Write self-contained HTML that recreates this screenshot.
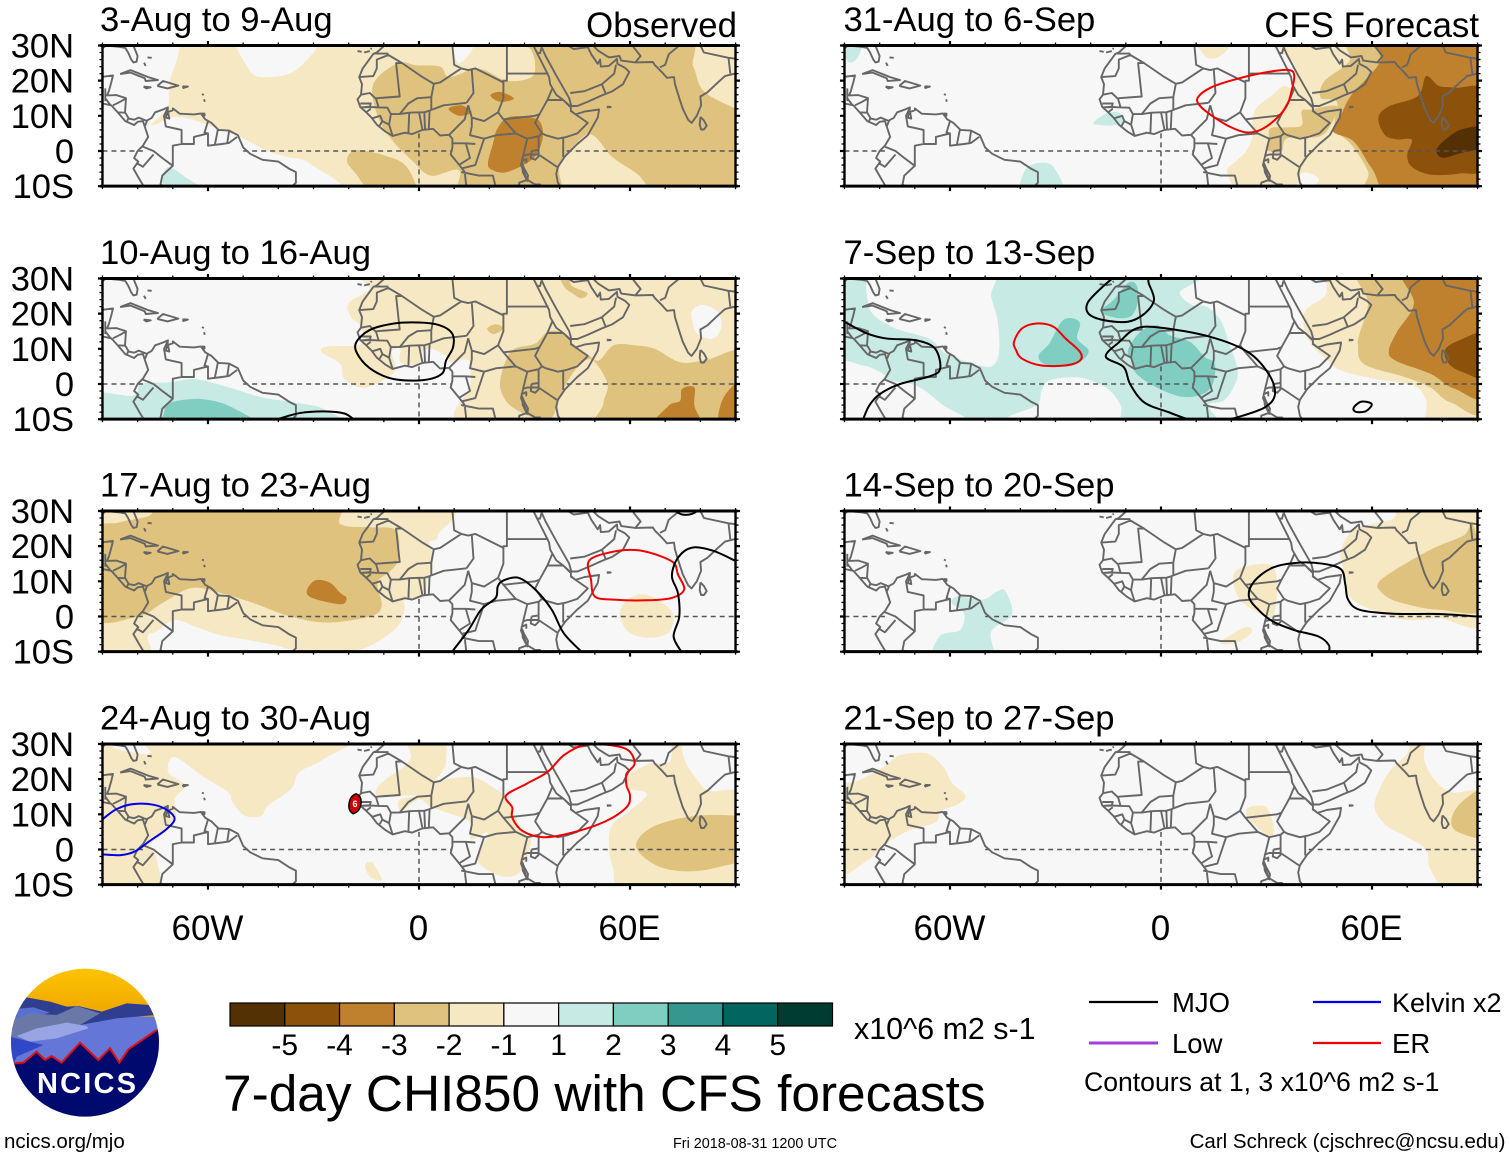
<!DOCTYPE html>
<html lang="en">
<head>
<meta charset="utf-8">
<title>7-day CHI850 with CFS forecasts</title>
<style>
html,body{margin:0;padding:0;background:#fff;}
svg{display:block;}
text{font-family:"Liberation Sans",Arial,sans-serif;fill:#000;}
</style>
</head>
<body>
<svg id="chart" xmlns="http://www.w3.org/2000/svg" width="1510" height="1158" viewBox="0 0 1510 1158">
  <rect x="0" y="0" width="1510" height="1158" fill="#fff"/>
  <g id="panels"></g>

  <g id="colorbar"></g>
  <text x="854" y="1039" font-size="30.4">x10^6 m2 s-1</text>
  <text x="223" y="1111" font-size="51.4">7-day CHI850 with CFS forecasts</text>

  <g>
    <line x1="1089" y1="1002" x2="1158" y2="1002" stroke="#000" stroke-width="2.2"/>
    <text x="1172" y="1012" font-size="27.5">MJO</text>
    <line x1="1313" y1="1002" x2="1381" y2="1002" stroke="#0000e6" stroke-width="2.2"/>
    <text x="1392" y="1012" font-size="27">Kelvin x2</text>
    <line x1="1089" y1="1043" x2="1158" y2="1043" stroke="#a040e0" stroke-width="3"/>
    <text x="1172" y="1053" font-size="27.5">Low</text>
    <line x1="1313" y1="1043" x2="1381" y2="1043" stroke="#f00000" stroke-width="2.2"/>
    <text x="1392" y="1053" font-size="27.5">ER</text>
    <text x="1084" y="1091" font-size="26.6">Contours at 1, 3 x10^6 m2 s-1</text>
  </g>

  <text x="4" y="1148" font-size="20.5">ncics.org/mjo</text>
  <text x="673" y="1148" font-size="14.4">Fri 2018-08-31 1200 UTC</text>
  <text x="1505.5" y="1148" font-size="20.5" text-anchor="end">Carl Schreck (cjschrec@ncsu.edu)</text>

  <defs>
    <clipPath id="logo-clip"><circle cx="255" cy="278" r="222"/></clipPath>
    <linearGradient id="sky" x1="0" y1="0" x2="0" y2="1">
      <stop offset="0" stop-color="#ffc400"/><stop offset="1" stop-color="#e89c00"/>
    </linearGradient>
  </defs>
  <g>
    <g transform="translate(0,950) scale(0.33333)" clip-path="url(#logo-clip)">
      <rect x="20" y="50" width="470" height="200" fill="url(#sky)"/>
      <rect x="20" y="200" width="470" height="180" fill="#6476d8"/>
      <polygon points="60,150 80,142 150,155 200,170 235,168 305,185 380,160 450,165 490,200 470,195 350,205 240,225 20,270" fill="#2f3e8f"/>
      <polygon points="30,200 60,176 100,172 150,188 100,200 30,215" fill="#5870d0"/>
      <polygon points="25,215 90,190 170,195 230,168 300,190 240,225 265,235 150,265 25,265" fill="#6a78a8"/>
      <polygon points="50,258 110,235 200,218 260,228 265,235 170,265 90,275" fill="#98a4e4"/>
      <polygon points="20,258 90,275 130,285 50,320 40,345 20,345" fill="#3048c8"/>
      <polygon points="42,340 70,338 110,305 135,330 155,318 185,338 240,278 295,330 330,295 358,338 385,298 470,240 495,235 495,510 15,510 15,340" fill="#000a6e"/>
      <polyline points="42,340 70,338 110,305 135,330 155,318 185,338 240,278 295,330 330,295 358,338 385,298 470,240" fill="none" stroke="#e01010" stroke-width="6"/>
    </g>
    <text x="37" y="1093" font-size="29" font-weight="bold" letter-spacing="2.2" style="fill:#fff">NCICS</text>
  </g>
</svg>

<script>
/* ---------- chart data (all coordinates in degrees lon / lat) ---------- */
const panelTitles = ['3-Aug to 9-Aug','10-Aug to 16-Aug','17-Aug to 23-Aug','24-Aug to 30-Aug','31-Aug to 6-Sep','7-Sep to 13-Sep','14-Sep to 20-Sep','21-Sep to 27-Sep'];
const panelTags = ['Observed','','','','CFS Forecast','','',''];
const latTicks = [30,20,10,0,-10];
const latLabels = ['30N','20N','10N','0','10S'];
const lonTicks = [-60,0,60];
const lonLabels = ['60W','0','60E'];
const barLevels = [-5,-4,-3,-2,-1,1,2,3,4,5];
const equatorSegments = [[-90,-78.5],[-50,9.5],[42,90]];
const meridianSegment = [5,-10];

/* [bin, points]; bin -2 means -2..-1, bin 1 means 1..2, 0 is neutral */
const fills1 = [
 [-2,[[-90,30],[90,30],[90,-10],[-90,-10]]],
 [0,[[-90,30],[-69.5,30],[-71,19],[-71.5,12.5],[-76,7.3],[-69,9.7],[-61,7.8],[-51,4],[-43,0],[-37.5,-1.7],[-31,-3.6],[-25,-10],[-90,-10]]],
 [0,[[-51,30],[-48.5,23.5],[-44.4,21],[-35,23],[-28.7,30]]],
 [0,[[10,30],[11,25],[15,28.6],[15.5,30]]],
 [1,[[-72,-5],[-73,-8.3],[-71,-10],[-59,-10],[-67,-7],[-70,-5]]],
 [-3,[[30,30],[74,30],[78,24],[81,17],[89,12.5],[90,10.6],[90,-10],[70,-10],[62,-6.5],[55,-1.7],[49.5,4.5],[45.5,3],[40,-4.5],[38.6,-10],[13,-10],[11.4,-5.5],[3.3,-7],[-2,-2.7],[-7.6,3],[-11.7,9.7],[-13,19],[-6,25],[-1,24.4],[6,24],[8.7,21],[17,23.4],[25,20],[32,21],[33,25],[32,28.6]]],
 [-3,[[-20.5,-2.7],[-18,-6.4],[-12,-10],[-1,-10],[-3.5,-4.5],[-10,-1.2],[-18,0.2]]],
 [-4,[[19.6,-3.6],[21,2],[22.3,6.4],[25.7,9.7],[33.2,9.2],[35.2,5.9],[34.5,1.1],[31.8,-2.7],[25,-6],[21,-5.5]]],
 [-4,[[20.3,15.8],[23,16.8],[27,14.9],[23,14]]],
 [-4,[[8.4,12],[12,13],[15,11],[11.4,10]]]
];
const fills2 = [
 [-2,[[-7.7,30],[-14.1,26.8],[-20,23],[-19.4,19.1],[-16.5,16.3],[-16.5,11.3],[-25.9,10.7],[-27.7,9.1],[-22.4,5.7],[-21.2,1.4],[-15.3,-1],[-7.1,3.3],[-7.7,9.1],[-5.3,10],[-5.3,6.2],[0,5.7],[0.6,9.1],[3.5,10],[8.2,7.7],[8.8,6.2],[14.1,6.7],[14.7,0],[15.9,-10],[90,-10],[90,30]]],
 [0,[[77.7,21],[80.7,22.5],[84.8,20.6],[86,16.3],[83.6,12.9],[79,14.4],[77.7,18.2]]],
 [-3,[[23,0],[24.7,6.7],[27.1,10],[33,11.5],[36.5,14.8],[40,14.8],[43.6,11.5],[48.3,8.1],[51.2,6.7],[55.4,11],[61.3,11],[67,10],[74.2,6.2],[81.3,6.7],[90,8.6],[90,-10],[53,-10],[52.4,-5.7],[53.6,0],[49.5,6.7],[46,5.7],[42.4,1],[40,-3.8],[37.7,-9.6],[33,-9.6],[28.3,-7.7],[24.7,-4.8]]],
 [-3,[[38.9,30],[42.4,29.7],[43.6,27.8],[47.9,25.8],[46,24.4],[43.6,25.8],[41.2,27.8]]],
 [-3,[[19.4,15.8],[21.8,17],[24.1,15.8],[21.2,14.2]]],
 [-4,[[66,-10],[71,-6.2],[74.2,-4.8],[74.8,-1.4],[78.3,-1],[78.3,-6.2],[80,-10]]],
 [-4,[[85.4,-10],[86.6,-3.8],[90,1],[90,-10]]],
 [1,[[-90,-3],[-81.3,-3.3],[-79,0],[-70.7,0.5],[-63.6,1.4],[-54,-1],[-44.6,-3.8],[-35.3,-5.3],[-27,-7.2],[-24.7,-10],[-90,-10]]],
 [2,[[-72.4,-7.7],[-70.7,-5.3],[-61.8,-4.3],[-53,-6.7],[-45.4,-10],[-70.7,-10]]]
];
const fills3 = [
 [-2,[[-90,30],[2.4,30],[5.3,23],[2.9,21],[4.1,16.7],[2.4,10],[1.2,5.3],[-4.1,4.8],[-4.1,1.9],[-7,-3.8],[-17.7,-9.6],[-34,-9.6],[-41.2,-8.1],[-48.3,-6.7],[-56.5,-5.3],[-63.6,-2.9],[-69.5,-1],[-74.8,-4.3],[-77.2,-5.7],[-76.6,-10],[-90,-10]]],
 [-3,[[-90,23.4],[-85,26.8],[-76.6,28.7],[-70.7,30],[-26,30],[-22.4,26.3],[-14,25.4],[-6.5,24.4],[-5.9,16.3],[-8.2,12.9],[-11.8,9.6],[-10.6,2.9],[-14,0],[-26,-1.7],[-36.5,0],[-47,3.8],[-56.5,6.7],[-64.7,8.1],[-73,3.8],[-80,0],[-90,0]]],
 [-4,[[-31.8,7.7],[-29.4,10.3],[-25.3,9.6],[-22.4,6.7],[-20.6,5.3],[-21.8,3.5],[-27,4.3],[-31.2,5.7]]],
 [-2,[[57.1,1],[60,5.3],[64.8,6.2],[70,3.3],[72.4,0],[70.7,-4.8],[64.8,-6],[59.5,-4.3]]]
];
const fills4 = [
 [-2,[[-74.2,30],[-20,30],[-27,25.8],[-34,22],[-36.4,17.2],[-43,12.4],[-44.8,9.6],[-49.5,9.6],[-53,13.4],[-54.2,16.3],[-61.2,20.6],[-69.5,26.3],[-71.3,22],[-66.5,18.2],[-69.5,14.3],[-69.5,7.7],[-76.6,1],[-74.8,-1.9],[-74.8,-10],[-90,-10],[-90,28.2],[-85,28.2],[-76.6,27.3]]],
 [-2,[[-4,30],[6.5,30],[7.7,25.4],[6.5,22],[3.5,18.2],[4.1,15.8],[-4.7,15.3],[-11.8,15.5],[-11.8,17.7],[-9.4,20],[-2.4,25.8]]],
 [-2,[[4,19],[14.7,20.6],[21.8,17.2],[24.7,14.4],[27,9.9],[30,4.3],[31.8,2.9],[31.2,-0.5],[28.3,-6.7],[23,-7.5],[17,-3.8],[17.7,0],[19.4,4.8],[14.7,2.9],[14.7,7.7],[9.4,10],[3.5,12],[0,14.3],[-4.7,11],[-5.9,12],[-5.3,14.3],[0,15.3],[4,17]]],
 [-2,[[-14.7,-3.7],[-13,-4],[-10.6,-8.6],[-13.5,-8.1],[-15.3,-5.3]]],
 [-2,[[54,1],[55.1,-4.8],[60,-10],[90,-10],[90,14.3],[82.5,16.7],[79,20],[75.4,25.8],[74.2,30],[72,30],[71.3,25],[66,24.5],[59.5,21],[59.5,17.5],[64.8,15.8],[60,11],[54.8,6.7]]],
 [-3,[[61.8,1.9],[66,6.2],[75.4,9.1],[86,9.8],[90,8.1],[90,-1.9],[86,-4.8],[77.7,-6.2],[69.5,-5.3],[63.6,-1.9]]]
];
const fills5 = [
 [1,[[-90,30],[-85,30],[-86,27],[-89,25.5]]],
 [1,[[-19.2,8],[-15.3,10.8],[-11.8,10.8],[-10.6,8.4],[-13.5,7.3],[-16.5,7.3]]],
 [1,[[-39.5,-10],[-38.9,-5.9],[-35.3,-3.5],[-30.6,-4.5],[-27.7,-10]]],
 [-2,[[10,30],[20.6,30],[17.7,27.6],[13,26.6]]],
 [-2,[[36.5,30],[90,30],[90,-10],[47,-10],[44.8,-7.8],[40,-6.4],[36.5,-10],[23.6,-10],[18.8,-6],[21.2,-3],[24.1,-0.2],[25.9,3.6],[25.9,7.5],[27.1,12.2],[31.8,16],[34.8,18.5],[37.7,18],[38.3,23.7]]],
 [-3,[[42.4,11.8],[40,11.3],[40,7.3],[35.9,6.7],[31.2,6.5],[30.6,3.6],[30.2,0.3],[34.2,-0.2],[35.9,3.6],[44.8,4.1],[48.3,7.5],[50,12.7]]],
 [-3,[[55.4,30],[53.6,25.6],[46.5,19.9],[45.4,15.1],[50,14],[49.5,6.5],[54.2,1.7],[58.9,-5.9],[60,-10],[90,-10],[90,30]]],
 [-4,[[61.3,30],[62.4,25.6],[54.2,16],[51.2,10.3],[48.9,5.6],[54.8,2.7],[60,-5],[66.6,-10],[90,-10],[90,30]]],
 [-5,[[75.4,21.3],[79,18.5],[83.6,18],[90,16.6],[90,-4],[84.8,-6.4],[76.6,-6.7],[71.3,-4.5],[70,-1.1],[71.3,3.2],[67.1,3.3],[63.6,4.6],[61.8,9.4],[64.8,12.7],[73,15.6]]],
 [-6,[[78.3,0.3],[81.3,3.6],[86,6.3],[90,6.7],[90,1.7],[84.8,-0.7],[80,-1.9]]]
];
const fills6 = [
 [1,[[-90,30],[4.7,30],[5.3,25.8],[8.8,22.5],[12.9,22],[17,18],[19.4,11.5],[21.8,3.8],[20.6,-1],[17.7,-4.8],[13.5,-6.2],[15.9,-10],[-8.8,-10],[-11.5,-6],[-15,-1.5],[-20,1],[-24.7,1.9],[-31.8,1],[-34,-2],[-35.3,-6],[-43.6,-9.5],[-43.6,-10],[-90,-10]]],
 [0,[[-80,30],[-83,22],[-76.6,16.3],[-66,12.9],[-61,8.6],[-51.8,5.3],[-47.7,5.3],[-46,9.6],[-46.5,18.2],[-48.3,24.9],[-49.2,30]]],
 [0,[[-90,5.3],[-84.8,5.3],[-79,2.9],[-77,1],[-69.5,-0.5],[-62.4,-5.7],[-54,-10],[-90,-10]]],
 [2,[[-16.5,21.5],[-13.5,23.9],[-9.4,28.7],[-7,28.2],[-6.5,23.9],[-8.2,19.6],[-11.8,18.7],[-16.5,20]]],
 [2,[[-34.8,8.1],[-31.8,11.5],[-28.3,17.7],[-25.3,18.7],[-23,17.2],[-23.8,12.9],[-20.6,9.6],[-22.4,6.7],[-26.5,5],[-33,5.7]]],
 [2,[[-9.4,9.6],[-5.9,14.8],[-1.2,16.7],[2.4,13.9],[8.2,12],[12.4,7.7],[15.3,5.7],[14.7,0],[11.8,-2.9],[5.9,-3.6],[-1.2,-1],[-7,2.9],[-8.2,6.7]]],
 [-2,[[47.5,30],[47.1,28.2],[46.5,24.9],[41.2,21],[40.6,16.3],[43,11],[47,7.2],[51.2,3.8],[61.3,1.4],[71.9,-0.5],[75.4,-4.8],[76.6,-10],[90,-10],[90,30]]],
 [-3,[[57.7,30],[58.9,23],[56.5,14.4],[56,11],[57.7,5.7],[69.5,1.9],[76.6,-1],[82.5,-5.3],[90,-6.2],[90,30]]],
 [-4,[[69,30],[71.9,23],[67.1,14.8],[64.8,9.6],[66.6,6.7],[76.6,2.9],[83.6,-1.4],[90,-1.9],[90,30]]],
 [-5,[[80.7,9.6],[84.8,12.4],[90,14.4],[90,1.9],[86,3.3],[81.9,5.7]]]
];
const fills7 = [
 [1,[[-90,30],[-88.6,30],[-90,25]]],
 [1,[[-59.5,3.8],[-57.7,5.7],[-50.7,4.8],[-46.5,7.2],[-44.2,7.2],[-42.4,0.5],[-48.3,-4.3],[-48.3,-10],[-64.2,-10],[-63,-5.7],[-57.1,-3.8],[-56,1]]],
 [-2,[[21.2,12.9],[30.6,14.8],[33,9.6],[31.8,0],[27.1,1.4],[21.8,5.7]]],
 [-2,[[17,-7.2],[24,-3],[25.9,-4.3],[23,-6.7],[19.4,-7.9]]],
 [-2,[[51.2,19],[55.4,25],[66,27.8],[69,30],[90,30],[90,-1],[79,-0.5],[69.5,-1],[60,1.9],[53.6,5.7],[51.8,13.4]]],
 [-3,[[61.8,9.6],[66,12.9],[76.6,19],[86,23],[89,25.4],[90,2.9],[79,1.9],[67,4.3],[62.4,7.2]]]
];
const fills8 = [
 [-2,[[-90,15.8],[-86,19.6],[-79,23.4],[-74.2,26.8],[-66.6,27.3],[-61.8,23.4],[-59.5,19],[-55.6,15.3],[-57.7,12.9],[-62.4,11],[-64.2,7.7],[-71.9,5.3],[-79,1],[-83.7,-3.3],[-90,-6.7]]],
 [-2,[[24.1,11],[26.5,12.4],[30,12],[31.8,7.7],[32,4.8],[30.6,3.8],[25.9,7.7]]],
 [-2,[[60.7,12.9],[64.8,22],[70,27.3],[71.3,30],[75.4,30],[74.8,25.8],[77.7,20],[82.5,16.3],[90,14.4],[90,-10],[82.5,-10],[76.6,-5.7],[75.4,0],[69.5,3.8],[63.6,7.2]]],
 [-3,[[82.5,8.1],[85.4,13.4],[90,17.2],[90,4],[84.8,4.8]]]
];
const panelFills = [fills1,fills2,fills3,fills4,fills5,fills6,fills7,fills8];

/* [wave type, closed?, points] */
const lines1 = [];
const lines2 = [
 ['mjo',true,[[-18,11.5],[-14.1,15.3],[-7.1,17.2],[0,17.5],[5.9,16.7],[9.4,14.4],[9.7,10.5],[7.7,6.7],[6.5,2.9],[1.2,1.1],[-7.1,1.4],[-13,3.8],[-17,7.7]]],
 ['mjo',false,[[-41.2,-10.3],[-34.1,-8.3],[-27,-7.8],[-21.2,-8.4],[-18.3,-10.3]]]
];
const lines3 = [
 ['er',true,[[48.3,15.8],[54.2,18.2],[61.3,18.9],[67.1,17.7],[72.4,15.3],[73.6,12],[75.4,7.7],[71.9,5.3],[64.8,4.6],[55.4,4.8],[50,5.7],[48.9,10.5]]],
 ['mjo',false,[[72.4,30.3],[74.8,29],[77.7,29.2],[79.5,30.3]]],
 ['mjo',false,[[90,15.8],[83.6,18.7],[77.7,19.6],[73.6,16.7],[71.9,11.5],[73.6,6.7],[74,0],[72.4,-5.7],[74.8,-10.3]]],
 ['mjo',false,[[9.2,-10.3],[14.1,-3.8],[17.7,2],[21.8,5.3],[22.4,8.6],[24.1,10.3],[28.3,11],[33,7.7],[37.7,2],[41.2,-4.8],[46.5,-10.3]]]
];
const lines4 = [
 ['kelvin',false,[[-90,8.6],[-86,11.5],[-81.3,12.9],[-75.4,12.7],[-71.3,11],[-69.5,8.6],[-71.9,5.7],[-76.6,2.4],[-80.7,-0.5],[-84.8,-1.6],[-90,-1.4]]],
 ['er',true,[[24.7,15.3],[30.6,18.7],[36.5,22],[41.2,26.8],[47,29.7],[54.2,29.7],[59.5,28.2],[61.3,24.4],[59,21.5],[59,18.2],[60,15.3],[59,12],[53,8],[43.6,4.8],[35.3,3.5],[29.4,5.3],[26.5,9.1],[26.5,12]]]
];
const lines5 = [
 ['er',true,[[10.4,15.1],[14.1,18],[21.2,20.4],[30.6,22.5],[36.5,23],[37.9,21.3],[37.1,17],[35.9,13.2],[33,9.4],[28.3,6],[24.1,5.3],[19.4,7],[14.1,10.3],[11.2,12.7]]]
];
const lines6 = [
 ['er',true,[[-41.8,12],[-39.5,15.8],[-35.3,17.2],[-30.6,16.3],[-27.1,12.9],[-23,9.1],[-23,6.7],[-27,5.3],[-34.2,5.3],[-39.5,7.2],[-41.2,9.6]]],
 ['mjo',false,[[-13.5,30.3],[-17.5,26.8],[-20.9,23],[-20.6,20],[-16.5,18.2],[-9.4,17.7],[-4.7,20],[-2,23.9],[-3.5,28.7],[-3.5,30.3]]],
 ['mjo',true,[[-15.7,7.8],[-11.8,12],[-7,15.8],[0,16],[14.1,13.4],[24.7,9.1],[30.6,2.9],[32.4,-2.9],[29.4,-6.7],[21.2,-9.6],[15,-11],[9,-10.4],[2.4,-8.1],[-4.7,-5.3],[-8.8,0],[-10.6,4.8]]],
 ['mjo',false,[[-90,17.7],[-83.6,14.4],[-77.8,12.9],[-69.5,12.4],[-64.2,10],[-62.8,4.3],[-66,2.1],[-74.2,0],[-80,-2.9],[-83,-6.2],[-84.8,-10.3]]],
 ['mjo',true,[[54.8,-6.7],[57,-5],[59.9,-5.7],[58.3,-7.7],[55.4,-7.9]]]
];
const lines7 = [
 ['mjo',false,[[90,0],[79,0.7],[66,0.8],[56.5,1.9],[53.2,4.8],[52.4,9.1],[51.2,13.4],[46,15],[38.9,15.3],[31.8,13.9],[26.5,10],[25,5.7],[27.7,1.9],[31.8,-1.4],[37.7,-3.8],[44.8,-5.7],[47.7,-8.1],[47.7,-10.3]]]
];
const lines8 = [];
const panelLines = [lines1,lines2,lines3,lines4,lines5,lines6,lines7,lines8];

/* tropical cyclone marker: panel index, lon, lat, label */
const stormPanel = [3];
const stormLon = [-18.2];
const stormLat = [13];
const stormLabel = ['6'];

const coastlines = [
 [[-90,29.2],[-89,30],[-85,29.6],[-83.5,29.3],[-82.7,28],[-81.8,26],[-81.2,25.2],[-80.3,25.4],[-80,27],[-81.2,30]],
 [[-90,21.1],[-87,21.5],[-87.5,19.5],[-88.2,17],[-88.7,15.8],[-86,15.9],[-83.3,15],[-83.6,11],[-82.5,9.2],[-81,8.9],[-79.7,9.5],[-77.5,8.6],[-76,9.4],[-75,11],[-72.5,11.9],[-71.4,12.4],[-71.5,11],[-70,11.6],[-70,12.1],[-68,10.6],[-64,10.4],[-62,10.7],[-60.8,9],[-59,8],[-57,6],[-54,5.8],[-51.5,4.5],[-50,1],[-48,-0.8],[-44.5,-2.5],[-40,-3],[-37,-5],[-35,-6],[-35,-9],[-36.5,-10.5]],
 [[-90,13.5],[-87.5,13],[-85.7,11],[-83.5,8.5],[-81,7.4],[-80,8.3],[-78.5,8.5],[-78,7],[-77,4],[-78.5,1.5],[-80,0],[-81,-2],[-79.8,-3],[-81.2,-5],[-79.5,-8],[-78,-10.5]],
 [[-71.6,10.8],[-72,9.5],[-71,9.2],[-71.3,10.8]],
 [[-85,21.9],[-82,23],[-77,21],[-74.2,20.2],[-77.7,19.9],[-78,20.7],[-82,22.3],[-85,21.9]],
 [[-74.4,18.5],[-72.8,19.9],[-68.4,18.6],[-71.5,17.8],[-74.4,18.5]],
 [[-78.3,18.3],[-76.3,18.1],[-77.5,17.8],[-78.3,18.3]],
 [[-67.2,18.4],[-65.7,18.3],[-67,17.9],[-67.2,18.4]],
 [[-61.7,10.7],[-61,10.6],[-61,10.1],[-61.7,10.2],[-61.7,10.7]],
 [[-78.2,25.1],[-77.7,24.2]],[[-76,26.5],[-77.2,26.6]],[[-61.7,16.2],[-61.2,15.9]],[[-61.1,14.7],[-60.9,14]],
 [[-9.8,30],[-12,28],[-13,27.6],[-16,23.5],[-17,21],[-16.2,19],[-16.5,16],[-17.5,14.7],[-16.7,12.5],[-15,11],[-13.5,9.5],[-12,7.5],[-9.5,5.5],[-7.5,4.3],[-4,5.2],[-2,4.8],[1,6],[4,6.3],[6,4.4],[8.5,4.6],[9.5,3.5],[9.5,1],[9,-1],[11.5,-4],[13,-6],[13.5,-10.5]],
 [[-17.5,28.4],[-16.3,28.2]],[[-15.6,28],[-14,28.4]],[[-13.8,29],[-13.4,29.2]],
 [[32.5,30],[33.5,28],[35.5,24],[37,21],[37.3,19],[39,16],[41,14.5],[43.2,12.5],[43.2,11.5],[44.5,10.4],[47,11.2],[51.2,11.8],[50.8,9.5],[48,4.5],[45,2],[41.5,-1.5],[39.5,-4.5],[39,-6.5],[39.5,-9],[40.5,-10.5]],
 [[32.5,30],[33.6,27.9],[34.4,27.8],[34.9,29.5]],
 [[34.9,29.5],[36,27],[39,21.5],[41,18],[42.7,15],[43.3,12.8],[45,12.8],[48,14],[52,15.8],[55,17],[58,19],[59.8,22.5],[58.5,23.7],[56.4,24.8],[56.3,26.2],[54,24.2],[51.7,24],[51.5,26],[50.8,24.8],[49,27.5],[48,29.5],[49,30.3]],
 [[49,30.4],[51,28.5],[54,26.6],[57,27],[57.5,25.7],[61.5,25.2],[66.5,25.3],[67,24.5],[69,22.5],[70.5,20.8],[72.5,21],[72.8,19],[74,15],[75,12],[76.5,8.9],[77.5,8],[79,10],[80.2,13],[80,15.5],[82,16.7],[85,19.5],[87,21.3],[89,21.8],[91,22.3]],
 [[80,9.7],[81,8.7],[81.8,7.2],[81,6.1],[80.2,6.1],[79.8,7.5],[80,9.7]],
 [[53.4,12.6],[54.5,12.5],[53.4,12.4]],
 [[32,0],[34,0.3],[34,-1.5],[33,-2.5],[31.8,-2],[32,0]],
 [[29.3,-3.5],[29.5,-6],[30.8,-8.5],[31,-7],[29.9,-5],[29.3,-3.5]],
 [[34,-9.5],[34.5,-10.8],[34.8,-10.8],[34.4,-9.5],[34,-9.5]]
];
const borders = [
 [[25,31],[25,22],[36.8,22]],[[25,22],[25,20],[24,20],[24,19.5],[16,23.5],[14,23],[12,23.5],[10,24.5],[9.5,30]],
 [[12,23.5],[6,19.5],[4.2,19.1],[1,21],[-4.8,25],[-6.5,25],[-5.5,15.5],[-12,15],[-12.2,14.8]],
 [[-4.8,25],[-8.7,27.3],[-12,26],[-12,23.5],[-13,21.3],[-17,21]],[[-8.7,27.7],[-13,27.7]],
 [[-16.5,16],[-14,16.5],[-12.2,14.8],[-11.5,12.4],[-9,12.3],[-8,10.5],[-8.5,7.5],[-7.5,4.3]],
 [[-16.7,13.5],[-13.7,13.5],[-14,12.6],[-16.7,12.4]],[[-16.7,12.4],[-13.7,12.5],[-11.5,12.4]],[[-15,11],[-13.7,12]],
 [[-13.3,9.3],[-11,10],[-10.4,8.5],[-11.4,6.9]],[[-10.4,8.5],[-8.5,7.5]],
 [[-5.5,10.5],[-3,13.5],[-0.5,15],[3.5,15.3],[4.2,19.1]],[[-8,10.5],[-5.5,10.5],[-2.8,10.9],[0,11],[1.5,11],[3,11.5],[3.5,11.7]],
 [[-2.8,10.9],[-3,5]],[[0,11],[1,6]],[[1.5,11],[1.7,6.2]],[[3,11.5],[2.8,6.3]],
 [[3.5,11.7],[3.5,15.3]],[[3.5,11.7],[7,13],[13.5,13.7]],[[8.6,4.6],[13,9],[14,13]],
 [[13.5,13.7],[15.5,16.5],[15,23]],[[14,13],[15,9.5],[18.5,8.5],[22.5,11],[24,15],[24,19.5]],
 [[15,9.5],[15,7],[14.5,4.5],[18.5,3.5],[22,4.5],[27.5,5],[24,9],[22.5,11]],
 [[24,9],[33,10],[34.3,10.5]],[[36.5,14.5],[34.3,10.5],[33,8],[35,5],[34,4.2],[30.8,3.5],[27.5,5]],
 [[36.5,14.5],[38,18]],[[36.5,14.5],[41,14.5],[43,12.5]],[[43,11.5],[48,8],[45,5],[42,4],[39.5,3.5],[36,4.5],[35,5]],
 [[41,3.9],[41,-1.7]],[[34,4.2],[34,-1],[39.5,-4.7]],[[30.8,3.5],[29.6,-1.4],[29,-4],[30.8,-8.2]],[[29.6,-1.4],[30.8,-1],[34,-1]],[[29,-3],[30.5,-2.3],[30.5,-3.5]],
 [[18.5,3.5],[17,-1],[16,-4],[12,-5]],[[9.7,2.2],[13.3,2.2],[16,2]],[[13.3,2.2],[14.5,-2],[11.5,-3.9]],
 [[12,-6],[17,-7],[21,-7],[22,-11]],[[40.4,-10.5],[37,-11.2],[34.5,-11]],[[30.8,-8.2],[28.5,-9],[28.5,-11]],[[30.8,-8.2],[33,-9.5],[34,-9.5]],
 [[43,16.5],[47,17],[52,19],[53,16.5]],[[52,19],[55.5,22],[56,24.5]],[[39,32],[44,29],[48,29.5]],
 [[74,30],[71,27.5],[70,24.5],[68.5,23.8]],[[61.5,25.2],[63,27],[61,29.5],[61.2,30]],[[80,30],[81,28],[88,26.5]],[[88,26.5],[88.5,22]],[[88,26.5],[92,26]],
 [[-89.2,17.8],[-89.2,14.2]],[[-87.7,13],[-89.2,15]],[[-87,13],[-85,14],[-83.2,15]],[[-85.7,11],[-83.7,10.9]],[[-83,8.5],[-82.6,9.5]],[[-77.9,7.2],[-77.3,8.6]],
 [[-71.5,12],[-72.5,10],[-72,7],[-67.5,6],[-67.5,2],[-70,1.5],[-70,-1],[-70,-4.2]],
 [[-78.7,1.3],[-75.5,0],[-73,-2],[-70,-4.2],[-73,-7],[-73.5,-9.5],[-72,-10.5]],
 [[-80.3,-3.4],[-78.5,-4.5],[-75.5,-1]],
 [[-60,8.5],[-61,5.2],[-60,5],[-64,4],[-64,2],[-67.5,2]],
 [[-60,5],[-60,1.5],[-56,2],[-54,2.3],[-51.7,4]],[[-57.2,6],[-58,2]],[[-54,5.8],[-54.5,2.3]]
];

/* ---------- styling lookups ---------- */
const binColor = {'-6':'#543005','-5':'#8c510a','-4':'#bf812d','-3':'#dfc27d','-2':'#f6e8c3','0':'#f7f7f7','1':'#c7eae5','2':'#80cdc1','3':'#35978f','4':'#01665e','5':'#003c30'};
const barBins = [-6,-5,-4,-3,-2,0,1,2,3,4,5];
const waveColor = {mjo:'#000',kelvin:'#0000e6',low:'#a040e0',er:'#f00000'};

/* ---------- axis functions ---------- */
const colZero = [419,1161];
const rowZero = [151,384,616.5,849.5];
const pxPerDeg = 3.517;
function xScale(col,lon){ return colZero[col]+lon*pxPerDeg; }
function yScale(row,lat){ return rowZero[row]-lat*pxPerDeg; }

const NS='http://www.w3.org/2000/svg';
function mk(tag,parent,attrs){
  const e=document.createElementNS(NS,tag);
  for(const k in attrs) e.setAttribute(k,attrs[k]);
  parent.appendChild(e);
  return e;
}
function project(col,row,pts,pad){
  return pts.map(function(p){
    let lon=p[0],lat=p[1];
    if(pad){
      if(lon>=90)lon+=3; if(lon<=-90)lon-=3;
      if(lat>=30)lat+=3; if(lat<=-10)lat-=3;
    }
    return [xScale(col,lon),yScale(row,lat)];
  });
}
function smoothPath(p,closed){
  const n=p.length;
  function at(i){ return closed?p[(i+n)%n]:p[Math.max(0,Math.min(n-1,i))]; }
  let d='M'+p[0][0].toFixed(1)+' '+p[0][1].toFixed(1);
  const last=closed?n:n-1;
  for(let i=0;i<last;i++){
    const a=at(i-1),b=at(i),c=at(i+1),e=at(i+2);
    d+='C'+(b[0]+(c[0]-a[0])/6).toFixed(1)+' '+(b[1]+(c[1]-a[1])/6).toFixed(1)+' '+(c[0]-(e[0]-b[0])/6).toFixed(1)+' '+(c[1]-(e[1]-b[1])/6).toFixed(1)+' '+c[0].toFixed(1)+' '+c[1].toFixed(1);
  }
  return closed?d+'Z':d;
}
function straightPath(p){
  return 'M'+p.map(function(q){return q[0].toFixed(1)+' '+q[1].toFixed(1);}).join('L');
}

/* ---------- draw panels ---------- */
const panelsRoot=document.getElementById('panels');
const defs=mk('defs',panelsRoot,{});
panelTitles.forEach(function(title,idx){
  const col=idx<4?0:1, row=idx%4;
  const left=xScale(col,-90), right=xScale(col,90), top=yScale(row,30), bottom=yScale(row,-10);
  const clipId='clip-'+idx;
  const cp=mk('clipPath',defs,{id:clipId});
  mk('rect',cp,{x:left,y:top,width:right-left,height:bottom-top});

  const g=mk('g',panelsRoot,{});
  
  

  const t=mk('text',g,{x:left-(col===0?2.5:1),y:rowZero[row]-120,'font-size':34.6});
  t.textContent=title;
  
  
  if(panelTags[idx]){
    const tag=mk('text',g,{x:right+1.5,y:rowZero[row]-114,'font-size':34.8,'text-anchor':'end'});
    tag.textContent=panelTags[idx];
    
    
  }

  const plot=mk('g',g,{'clip-path':'url(#'+clipId+')'});
  const bg=mk('rect',plot,{x:left,y:top,width:right-left,height:bottom-top,fill:binColor['0']});
  
  

  panelFills[idx].forEach(function(f){
    const path=mk('path',plot,{d:smoothPath(project(col,row,f[1],true),true),fill:binColor[String(f[0])],stroke:'none'});
    
    
  });

  equatorSegments.forEach(function(s){
    const ln=mk('line',plot,{x1:xScale(col,s[0]),x2:xScale(col,s[1]),y1:yScale(row,0),y2:yScale(row,0),stroke:'#555','stroke-width':1.5,'stroke-dasharray':'5 4'});
    
    
  });
  const mer=mk('line',plot,{x1:xScale(col,0),x2:xScale(col,0),y1:yScale(row,meridianSegment[0]),y2:yScale(row,meridianSegment[1]),stroke:'#555','stroke-width':1.5,'stroke-dasharray':'5 4'});
  
  

  const land=mk('g',plot,{fill:'none',stroke:'#666','stroke-width':1.9,'stroke-linejoin':'round'});
  
  
  let landD='';
  coastlines.concat(borders).forEach(function(c){ landD+=straightPath(project(col,row,c,false)); });
  mk('path',land,{d:landD});

  panelLines[idx].forEach(function(l){
    const c=mk('path',plot,{d:smoothPath(project(col,row,l[2],false),l[1]),fill:'none',stroke:waveColor[l[0]],'stroke-width':2});
    
    
  });

  stormPanel.forEach(function(sp,i){
    if(sp!==idx) return;
    const sx=xScale(col,stormLon[i]), sy=yScale(row,stormLat[i]);
    const sg=mk('g',plot,{});
    
    
    mk('path',sg,{d:'M'+(sx+1)+' '+(sy-10)+'Q'+(sx+7)+' '+(sy-8)+' '+(sx+6)+' '+(sy)+'Q'+(sx+5)+' '+(sy+8)+' '+(sx-2)+' '+(sy+10)+'Q'+(sx-7)+' '+(sy+7)+' '+(sx-6)+' '+(sy)+'Q'+(sx-5)+' '+(sy-8)+' '+(sx+1)+' '+(sy-10)+'Z',fill:'#d00000',stroke:'#000','stroke-width':1.4});
    const st=mk('text',sg,{x:sx,y:sy+3.2,'font-size':9,'font-weight':'bold','text-anchor':'middle',style:'fill:#fff'});
    st.textContent=stormLabel[i];
    
    
  });

  /* ticks */
  const ticks=mk('g',g,{stroke:'#000','stroke-width':1.3,fill:'none'});
  
  
  let minorD='';
  for(let lon=-90;lon<=90;lon+=10){
    const x=xScale(col,lon);
    minorD+='M'+x+' '+(top-3)+'V'+top+'M'+x+' '+bottom+'V'+(bottom+3);
  }
  for(let lat=-10;lat<=30;lat+=2){
    const y=yScale(row,lat);
    minorD+='M'+(left-3)+' '+y+'H'+left+'M'+right+' '+y+'H'+(right+3);
  }
  mk('path',ticks,{d:minorD});
  let majorD='';
  lonTicks.forEach(function(lon){
    const x=xScale(col,lon);
    majorD+='M'+x+' '+(top-4.5)+'V'+top+'M'+x+' '+bottom+'V'+(bottom+5);
  });
  latTicks.forEach(function(lat){
    const y=yScale(row,lat);
    majorD+='M'+(left-4.5)+' '+y+'H'+left+'M'+right+' '+y+'H'+(right+4.5);
  });
  mk('path',ticks,{d:majorD,'stroke-width':2.2});

  /* frame */
  const frame=mk('g',g,{stroke:'#000',fill:'none'});
  
  
  mk('line',frame,{x1:left-2,x2:right+2,y1:top,y2:top,'stroke-width':3});
  mk('line',frame,{x1:left-2,x2:right+2,y1:bottom,y2:bottom,'stroke-width':3});
  mk('line',frame,{x1:left,x2:left,y1:top,y2:bottom,'stroke-width':2.4});
  mk('line',frame,{x1:right,x2:right,y1:top,y2:bottom,'stroke-width':2.4});

  /* latitude labels on the left column */
  if(col===0){
    latTicks.forEach(function(lat,i){
      const lab=mk('text',g,{x:74,y:yScale(row,lat)+12,'font-size':34.5,'text-anchor':'end'});
      lab.textContent=latLabels[i];
      
      
    });
  }
  /* longitude labels on the bottom row */
  if(row===3){
    lonTicks.forEach(function(lon,i){
      const lab=mk('text',g,{x:xScale(col,lon)-0.5,y:940,'font-size':35,'text-anchor':'middle'});
      lab.textContent=lonLabels[i];
      
      
    });
  }
});

/* ---------- colorbar ---------- */
const barRoot=document.getElementById('colorbar');
const barX=230, barW=602.5, barY=1003, barH=23;
const binW=barW/barBins.length;
barBins.forEach(function(b,i){
  const r=mk('rect',barRoot,{x:barX+i*binW,y:barY,width:binW,height:barH,fill:binColor[String(b)],stroke:'#000','stroke-width':1.2});
  
  
});
barLevels.forEach(function(v,i){
  const t=mk('text',barRoot,{x:barX+(i+1)*binW,y:1055,'font-size':30,'text-anchor':'middle'});
  t.textContent=String(v);
  
  
});
</script>
</body>
</html>
